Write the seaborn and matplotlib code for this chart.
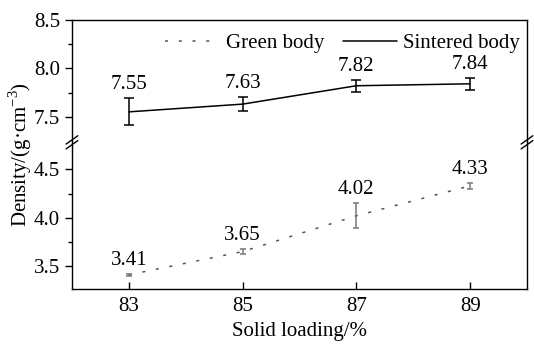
import matplotlib
matplotlib.use("Agg")
import matplotlib.pyplot as plt
import seaborn as sns
import pandas as pd

loading = [83, 85, 87, 89]
green = [3.41, 3.65, 4.02, 4.33]
green_err = [0.01, 0.03, 0.13, 0.03]
sintered = [7.55, 7.63, 7.82, 7.84]
sintered_err = [0.14, 0.07, 0.06, 0.06]

sns.set_theme(style="ticks")
plt.rcParams["font.family"] = ["Liberation Serif", "DejaVu Serif"]
plt.rcParams["mathtext.fontset"] = "custom"
plt.rcParams["mathtext.rm"] = "Liberation Serif"
plt.rcParams["font.size"] = 15
for k in ("text.color", "axes.labelcolor", "xtick.color", "ytick.color"):
    plt.rcParams[k] = "black"

df = pd.DataFrame({"loading": loading, "green": green, "sintered": sintered})

fig, (ax1, ax2) = plt.subplots(2, 1, figsize=(5.34, 3.47), dpi=100, sharex=True,
                               gridspec_kw={"height_ratios": [1.265, 1.517], "hspace": 0})
fig.subplots_adjust(left=0.1348, right=0.9869, top=0.9424, bottom=0.1671)

sns.lineplot(data=df, x="loading", y="sintered", ax=ax1, color="black", lw=1.1,
             label="Sintered body")
ax1.errorbar(loading, sintered, yerr=sintered_err, fmt="none", ecolor="black",
             elinewidth=1.1, capsize=3.5, capthick=1.1)
sns.lineplot(data=df, x="loading", y="green", ax=ax2, color="#555555", lw=1.1,
             linestyle=(0, (2, 7)), label="Green body")
ax2.errorbar(loading, green, yerr=green_err, fmt="none", ecolor="#777777",
             elinewidth=1.1, capsize=2.5, capthick=1.1)

for x, y, e in zip(loading, sintered, sintered_err):
    ax1.annotate(f"{y:.2f}", (x, y + e), xytext=(0, 3), textcoords="offset points",
                 ha="center", va="bottom", fontsize=15)
for x, y, e in zip(loading, green, green_err):
    ax2.annotate(f"{y:.2f}", (x, y + e), xytext=(0, 3), textcoords="offset points",
                 ha="center", va="bottom", fontsize=15)

ax1.set_ylim(7.235, 8.5)
ax2.set_ylim(3.263, 4.78)
ax1.set_yticks([7.5, 8.0, 8.5])
ax1.set_yticks([7.75, 8.25], minor=True)
ax2.set_yticks([3.5, 4.0, 4.5])
ax2.set_yticks([3.75, 4.25], minor=True)
ax2.set_xlim(82, 90)
ax2.set_xticks(loading)

for ax in (ax1, ax2):
    for s in ax.spines.values():
        s.set_color("black")
        s.set_linewidth(1.0)
    ax.tick_params(axis="y", which="major", direction="out", length=5, width=1,
                   labelsize=15)
    ax.tick_params(axis="y", which="minor", direction="out", length=3, width=1)
    ax.set_xlabel("")
    ax.set_ylabel("")
ax1.spines["bottom"].set_visible(False)
ax2.spines["top"].set_visible(False)
ax1.tick_params(axis="x", which="both", bottom=False, labelbottom=False)
ax2.tick_params(axis="x", direction="in", length=5, width=1, labelsize=15, pad=6)
ax2.set_xlabel("Solid loading/%", fontsize=15)

# break marks on both sides of the frame
pos = ax2.get_position()
for xf in (pos.x0, pos.x1):
    for dy in (-0.007, 0.007):
        fig.add_artist(plt.Line2D([xf - 0.011, xf + 0.011],
                                  [pos.y1 + dy - 0.012, pos.y1 + dy + 0.012],
                                  color="black", lw=1.0))

h1, l1 = ax1.get_legend_handles_labels()
h2, l2 = ax2.get_legend_handles_labels()
ax2.get_legend().remove()
ax1.legend(h2 + h1, l2 + l1, ncol=2, frameon=False, loc="upper center",
           bbox_to_anchor=(0.595, 1.04), fontsize=15, handlelength=2.6,
           columnspacing=0.9, handletextpad=0.3)

fig.text(0.038, (0.9424 + 0.1671) / 2, "Density/(g·cm$^{-3}$)", rotation=90,
         ha="center", va="center", fontsize=15)

fig.savefig("out.png", dpi=100)
